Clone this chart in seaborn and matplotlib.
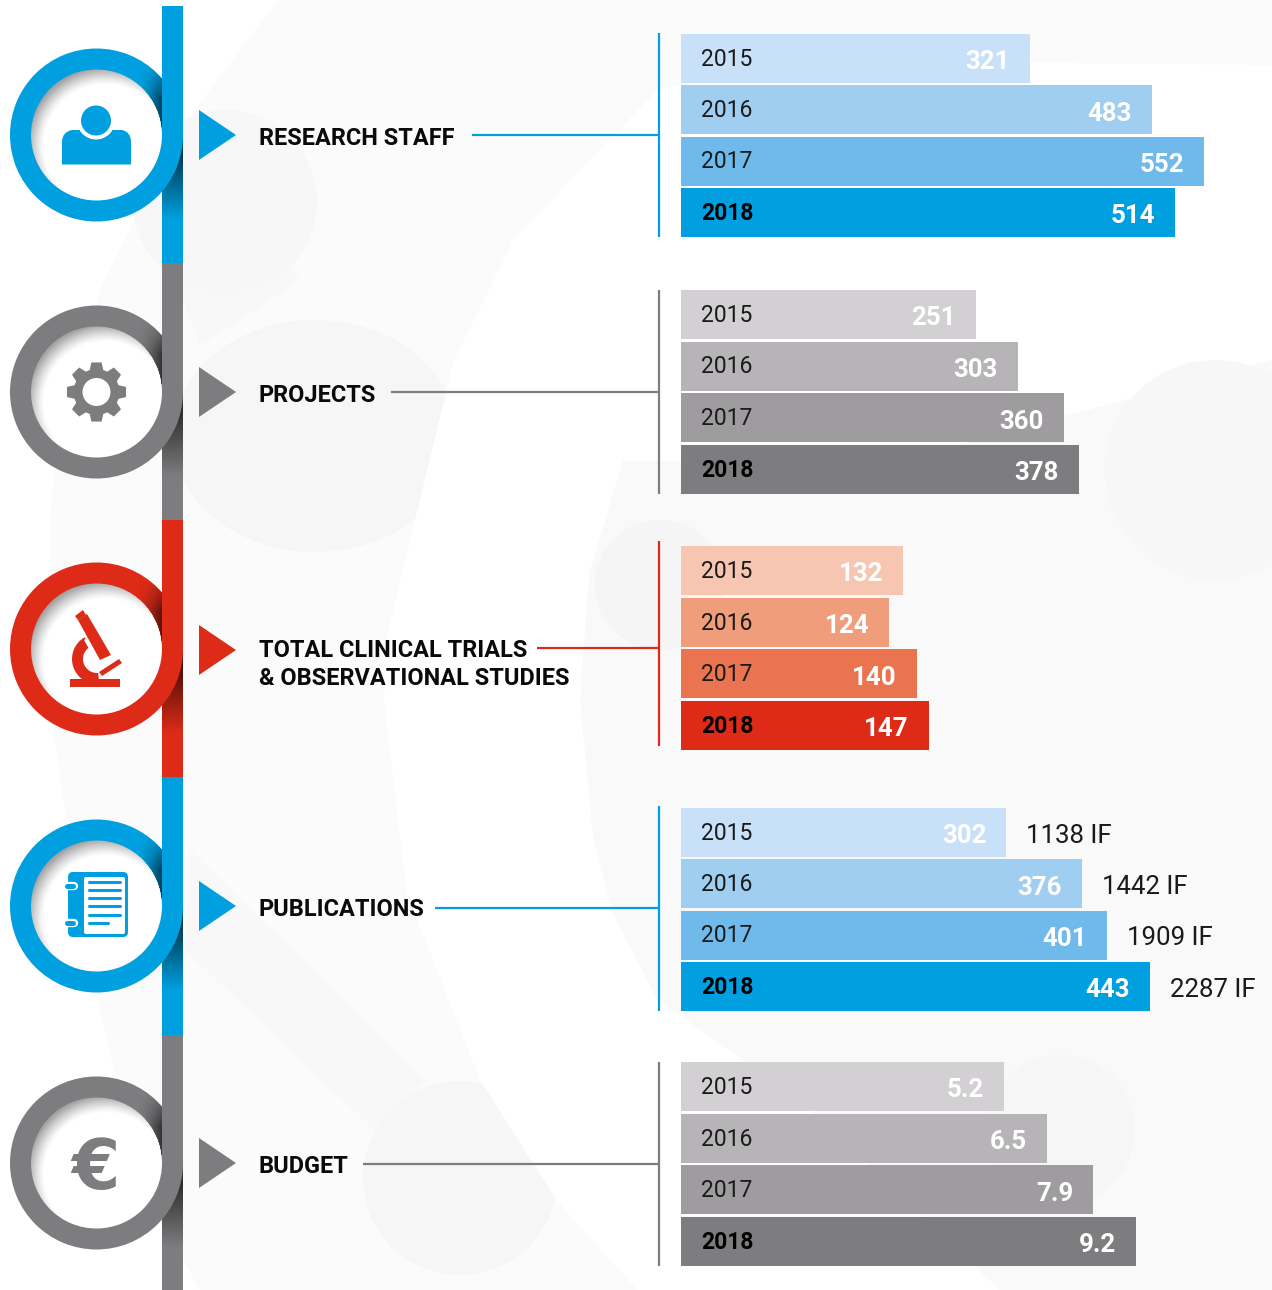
import numpy as np
import pandas as pd
import matplotlib
matplotlib.use("Agg")
import matplotlib.pyplot as plt
from matplotlib.patches import Circle, Ellipse, Polygon, Rectangle, Wedge, FancyBboxPatch
from matplotlib.path import Path
from matplotlib.patches import PathPatch
import seaborn as sns

# ---------- data ----------
years = ["2015", "2016", "2017", "2018"]
research_staff = [321, 483, 552, 514]
projects = [251, 303, 360, 378]
clinical = [132, 124, 140, 147]
publications = [302, 376, 401, 443]
budget = [5.2, 6.5, 7.9, 9.2]
impact_factor = ["1138 IF", "1442 IF", "1909 IF", "2287 IF"]
titles = ["RESEARCH STAFF", "PROJECTS", "TOTAL CLINICAL TRIALS\n& OBSERVATIONAL STUDIES",
          "PUBLICATIONS", "BUDGET"]

# ---------- style ----------
BLUE = ["#c9e1f8", "#a0cef1", "#6fbaea", "#00a0e0"]
GREY = ["#d2d0d2", "#b6b4b6", "#9e9c9e", "#7d7d7f"]
RED = ["#f6c6b2", "#f09d7c", "#e9744f", "#de2b18"]
FONT = "Roboto"
W, H = 1272, 1290

sns.set_theme(style="white")
plt.rcParams["font.family"] = [FONT, "DejaVu Sans"]

fig = plt.figure(figsize=(W / 100, H / 100), dpi=100, facecolor="white")
bg = fig.add_axes([0, 0, 1, 1], zorder=0)
bg.set_xlim(0, W)
bg.set_ylim(H, 0)
bg.axis("off")


def fill(points, color, z=1):
    bg.add_patch(Polygon(points, closed=True, fc=color, ec="none", zorder=z))


# ---------- faint molecule backdrop ----------
fill([(278, 0), (1272, 0), (1272, 1290), (200, 1290), (140, 1180), (100, 1010), (70, 850),
      (50, 700), (50, 520), (60, 420), (100, 290), (180, 130)], "#fbfbfb", 1)
fill([(185, 175), (262, 240), (300, 280), (200, 345), (183, 300)], "#f8f8f8", 1.1)
bg.add_patch(Circle((225, 202), 92, fc="#f7f7f7", ec="none", zorder=1.2))
bg.add_patch(Ellipse((315, 436), 285, 232, fc="#f6f6f6", ec="none", zorder=1.2))
fill([(190, 850), (425, 1082), (375, 1130), (185, 950)], "#f8f8f8", 1.1)
bg.add_patch(Circle((460, 1178), 97, fc="#f6f6f6", ec="none", zorder=1.2))
fill([(453, 363), (513, 240), (657, 90), (780, 60), (1272, 65), (1272, 1290), (637, 1290),
      (557, 1201), (480, 1080), (407, 894), (384, 703), (387, 636)], "#ffffff", 1.5)
fill([(623, 461), (900, 461), (1272, 360), (1272, 1290), (1000, 1290), (800, 1100), (657, 999),
      (613, 913), (593, 835), (580, 700), (589, 575)], "#f9f9f9", 1.6)
bg.add_patch(Ellipse((660, 585), 130, 130, fc="#f5f5f5", ec="none", zorder=1.7))
bg.add_patch(Circle((1060, 1130), 75, fc="#f6f6f6", ec="none", zorder=1.7))
bg.add_patch(Circle((1215, 470), 110, fc="#f7f7f7", ec="none", zorder=1.7))

# ---------- vertical band and rings ----------
band_edges = [6, 263, 520, 777, 1035, 1290]
band_cols = [BLUE[3], GREY[3], RED[3], BLUE[3], GREY[3]]
centers_y = [135, 392, 649, 906, 1163]
cx, r_out, r_in = 96.5, 86.5, 65.5
ring_cols = band_cols


def shade(alpha_func, box, z):
    x0, x1, y0, y1 = box
    xs = np.arange(x0, x1) + 0.5
    ys = np.arange(y0, y1) + 0.5
    X, Y = np.meshgrid(xs, ys)
    img = np.zeros(X.shape + (4,))
    img[..., 3] = alpha_func(X, Y)
    bg.imshow(img, extent=(x0, x1, y1, y0), zorder=z, aspect="auto", interpolation="bilinear")


for i in range(5):
    bg.add_patch(Rectangle((162, band_edges[i]), 21, band_edges[i + 1] - band_edges[i],
                           fc=band_cols[i], ec="none", zorder=2))

for cy, col in zip(centers_y, ring_cols):
    # shadow the ring throws on the band below it
    shade(lambda X, Y, cy=cy: 0.62 * np.clip(1 - (Y - (cy + 22)) / 62, 0, 1) * (Y > cy),
          (162, 183, int(cy), int(cy) + 95), 2.5)
    # white disc, inner crescent, ring
    bg.add_patch(Circle((cx, cy), r_in + 1, fc="white", ec="none", zorder=3))
    shade(lambda X, Y, cy=cy: 0.36 * np.clip((np.hypot(X - cx - 9, Y - cy - 11) - 61) / 17, 0, 1) ** 1.3
          * (np.hypot(X - cx, Y - cy) <= r_in + 1),
          (28, 165, int(cy) - 70, int(cy) + 70), 3.1)
    bg.add_patch(Wedge((cx, cy), r_out, 0, 360, width=r_out - r_in, fc=col, ec="none", zorder=3.2))
    # band passes in front of the upper half of the ring, with a soft shadow on the ring
    shade(lambda X, Y, cy=cy: 0.6 * np.clip((X - 136) / 26, 0, 1) ** 1.5
          * np.clip((Y - (cy - 72)) / 35, 0, 1) * np.clip((cy + 2 - Y) / 8, 0, 1)
          * (np.hypot(X - cx, Y - cy) <= r_out) * (np.hypot(X - cx, Y - cy) >= r_in),
          (120, 162, int(cy) - 85, int(cy) + 5), 3.3)
    top = band_edges[centers_y.index(cy)]
    bg.add_patch(Rectangle((162, top), 21, cy - top, fc=col, ec="none", zorder=3.4))

# triangles, connectors, headings
conn_start = [472, 391, 537, 435, 363]
conn_y = [135, 392, 648, 908, 1164]
tri_y = [135, 392, 650, 906, 1163]
title_y = [138.5, 395.5, 664.5, 909.5, 1166.5]
for t, s, cy, ty, yy, col in zip(titles, conn_start, conn_y, tri_y, title_y, band_cols):
    fill([(199, ty - 25), (236, ty), (199, ty + 25)], col, 4)
    bg.plot([s, 659], [cy, cy], color=col, lw=1.6, solid_capstyle="butt", zorder=4)
    bg.text(259, yy, t, fontsize=16.9, fontweight="bold", color="#0a0a0a", va="center", ha="left",
            linespacing=1.31, zorder=5)

# ---------- icons ----------
# person
blue = BLUE[3]
body = Path([(62, 164.5), (62, 142), (62, 132), (72, 130), (122, 130), (131, 132), (131, 142),
             (131, 164.5), (62, 164.5)],
            [Path.MOVETO, Path.LINETO, Path.CURVE3, Path.CURVE3, Path.LINETO, Path.CURVE3, Path.CURVE3,
             Path.LINETO, Path.CLOSEPOLY])
bg.add_patch(PathPatch(body, fc=blue, ec="none", zorder=5))
bg.add_patch(Circle((96, 120.5), 19, fc="white", ec="none", zorder=5.1))
bg.add_patch(Circle((96, 120.5), 15, fc=blue, ec="none", zorder=5.2))

# gear
gear_col = GREY[3]
gx, gy = 96.5, 392
n_teeth = 8
pts = []
for k in range(n_teeth):
    a = 2 * np.pi * k / n_teeth - np.pi / 2
    for da, rad in [(-0.30, 23), (-0.17, 30), (0.17, 30), (0.30, 23)]:
        pts.append((gx + rad * np.cos(a + da), gy + rad * np.sin(a + da)))
fill(pts, gear_col, 5)
bg.add_patch(Circle((gx, gy), 14, fc="white", ec="none", zorder=5.1))

# microscope
red = RED[3]
bg.add_patch(Rectangle((70, 679), 50, 8, fc=red, ec="none", zorder=5))
bg.add_patch(Wedge((97, 659), 25, 85, 240, width=11, fc=red, ec="none", zorder=5))
fill([(84, 640), (90, 636), (98, 650), (92, 654)], "white", 5.05)
fill([(78, 620), (87, 614), (111, 655), (100, 660)], red, 5.1)
fill([(75, 616), (83, 610), (86, 615), (78, 620)], red, 5.1)
fill([(99, 672), (119, 659), (122, 663), (102, 676)], red, 5.1)

# notebook
bg.add_patch(FancyBboxPatch((71, 875), 54, 59, boxstyle="round,pad=3,rounding_size=5", fc=blue, ec="none", zorder=5))
bg.add_patch(FancyBboxPatch((86, 879), 37, 53, boxstyle="round,pad=2,rounding_size=2", fc="white", ec="none", zorder=5.1))
for ly, lx in zip([882, 890, 898, 906, 915, 923], [120, 120, 120, 120, 120, 108]):
    bg.plot([89, lx], [ly, ly], color=blue, lw=2.2, solid_capstyle="round", zorder=5.2)
for ly in [886, 923]:
    bg.plot([67, 74], [ly, ly], color="white", lw=6, solid_capstyle="round", zorder=5.3)
    bg.plot([66.5, 73], [ly, ly], color=blue, lw=3.6, solid_capstyle="round", zorder=5.4)

# euro
bg.text(95, 1169, "€", fontsize=50, fontweight="bold", family="DejaVu Sans", color=gear_col,
        ha="center", va="center", zorder=5)

# ---------- bar panels (each with its own truncated axis) ----------
AX_X, AX_W = 681, 591
panels = [
    (research_staff, BLUE, 34, 237, -142.5, 785.0, [str(v) for v in research_staff], None),
    (projects, GREY, 290, 494, -114.0, 731.4, [str(v) for v in projects], None),
    (clinical, RED, 546, 750, 4.0, 340.8, [str(v) for v in clinical], None),
    (publications, BLUE, 808, 1011, -17.0, 579.4, [str(v) for v in publications], impact_factor),
    (budget, GREY, 1062, 1266, -4.59, 17.9, [f"{v:.1f}" for v in budget], None),
]
line_spans = [(33, 237), (290, 494), (541, 746), (806, 1011), (1062, 1266)]
label_gap = 20 * 0.72

for (vals, pal, top, bottom, start, span, labels, extra), (l0, l1), col in zip(panels, line_spans, band_cols):
    bg.plot([659, 659], [l0, l1], color=col, lw=1.6, solid_capstyle="butt", zorder=4)
    ax = fig.add_axes([AX_X / W, 1 - bottom / H, AX_W / W, (bottom - top) / H], zorder=2)
    df = pd.DataFrame({"year": years, "value": np.array(vals, dtype=float) - start})
    pitch = (bottom - top - 49) / 3
    frac = 49 / pitch
    sns.barplot(data=df, y="year", x="value", hue="year", order=years, hue_order=years,
                palette=pal, dodge=False, width=frac, saturation=1, legend=False, ax=ax, linewidth=0)
    ax.set_xlim(0, span)
    ax.set_ylim(3 + frac / 2, -frac / 2)
    ax.axis("off")
    ax.patch.set_alpha(0)
    for j, year in enumerate(years):
        v = df["value"].iloc[j]
        bold = j == 3
        ax.annotate(year, (0, j), xytext=(label_gap, 1.2), textcoords="offset points", va="center_baseline",
                    ha="left", fontsize=16.5, color="black" if bold else "#1a1a1a",
                    fontweight="bold" if bold else "normal", clip_on=False)
        ax.annotate(labels[j], (v, j), xytext=(-label_gap, -1), textcoords="offset points", va="center_baseline",
                    ha="right", fontsize=18.6, color="white", fontweight="bold", clip_on=False)
        if extra:
            ax.annotate(extra[j], (v, j), xytext=(label_gap, -0.5), textcoords="offset points", va="center_baseline",
                        ha="left", fontsize=18.6, color="#1a1a1a", fontweight="normal", clip_on=False)

fig.savefig("out.png", dpi=100)
